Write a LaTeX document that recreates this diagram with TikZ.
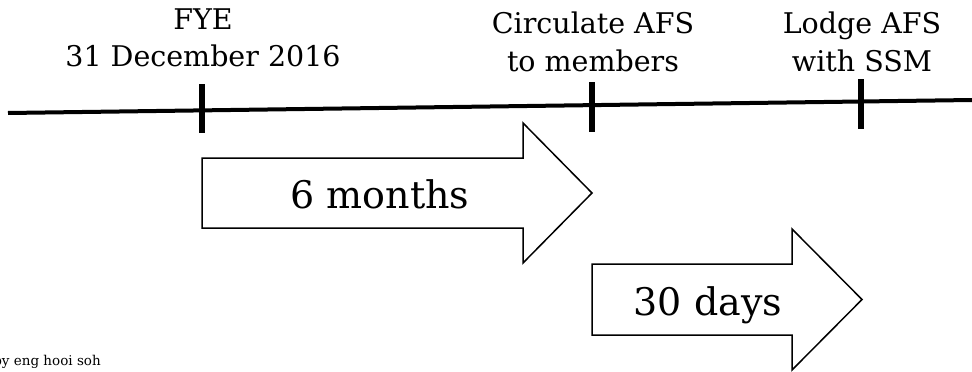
\documentclass[tikz,border=0pt]{standalone}
\usepackage{fontspec}
\setmainfont{DejaVu Serif}
\begin{document}
\begin{tikzpicture}[x=1pt,y=-1pt,
  timeline/.style={line width=4pt},
  tick/.style={line width=6pt},
  period/.style={draw=black,line width=1.5pt,fill=white,line join=miter},
  toplabel/.style={font=\fontsize{28.5}{34}\selectfont,anchor=base,inner sep=0pt},
  biglabel/.style={font=\fontsize{38}{44}\selectfont,anchor=base,inner sep=0pt},
  credit/.style={font=\fontsize{13.5}{15}\selectfont,anchor=base east,inner sep=0pt}]
\useasboundingbox (0,0) rectangle (972,372);
% timeline
\coordinate (tl0) at (8,113);
\coordinate (tl1) at (972,100);
\draw[timeline] (tl0) -- (tl1);
% ticks
\coordinate (t1a) at (202,84); \coordinate (t1b) at (202,133);
\coordinate (t2a) at (592,82); \coordinate (t2b) at (592,132);
\coordinate (t3a) at (861,79); \coordinate (t3b) at (861,129);
\draw[tick] (t1a) -- (t1b);
\draw[tick] (t2a) -- (t2b);
\draw[tick] (t3a) -- (t3b);
% labels
\node[toplabel] (fye1) at (203,29) {FYE};
\node[toplabel] (fye2) at (203,66) {31 December 2016};
\node[toplabel] (circ1) at (593,33) {Circulate AFS};
\node[toplabel] (circ2) at (593,71) {to members};
\node[toplabel] (lodge1) at (862,33) {Lodge AFS};
\node[toplabel] (lodge2) at (862,71) {with SSM};
% period arrows
\draw[period] (202,158) -- (523,158) -- (523,123) -- (592,193) -- (523,263) -- (523,228) -- (202,228) -- cycle;
\draw[period] (592,264) -- (792,264) -- (792,229) -- (862,299.5) -- (792,370) -- (792,335) -- (592,335) -- cycle;
\node[biglabel] (six) at (380,208) {6 months};
\node[biglabel] (thirty) at (708,315) {30 days};
% credit
\node[credit] (by) at (101,365) {by eng hooi soh};
\end{tikzpicture}
\end{document}
